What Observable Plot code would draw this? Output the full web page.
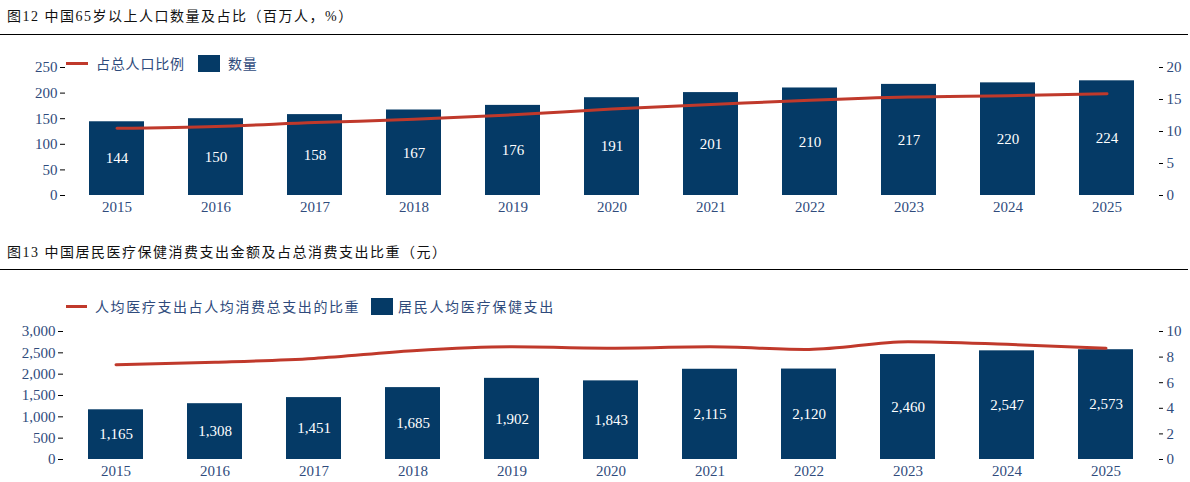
<!DOCTYPE html>
<html>
<head>
<meta charset="utf-8">
<script src="https://cdn.jsdelivr.net/npm/d3@7"></script>
<script src="https://cdn.jsdelivr.net/npm/@observablehq/plot@0.6"></script>
<style>
  html, body { margin: 0; padding: 0; background: #fff; }
  #page { position: relative; width: 1190px; height: 482px; background: #fff; overflow: hidden; }
  .title { position: absolute; left: 7px; font-family: "Liberation Serif", "Noto Sans CJK SC", serif; font-size: 14px; line-height: 14px; color: #111; white-space: nowrap; letter-spacing: 1.5px; }
  .rule { position: absolute; left: 0; width: 1188px; height: 1px; background: #000; }
  .chart { position: absolute; left: 0; }
  .leg { position: absolute; font-family: "Noto Sans CJK SC", sans-serif; font-size: 14px; line-height: 16px; color: #2F4B7C; white-space: nowrap; }
  .legline { position: absolute; height: 3px; background: #C0392B; }
  .legbox { position: absolute; background: #053A66; }
</style>
</head>
<body>
<div id="page">
  <div class="title" style="top:10px">图12 中国65岁以上人口数量及占比（百万人，%）</div>
  <div class="rule" style="top:34px"></div>
  <div id="c1" class="chart" style="top:40px"></div>
  <div class="legline" style="left:66px;top:62px;width:22px"></div>
  <div class="leg" style="left:96px;top:55px;letter-spacing:0.8px">占总人口比例</div>
  <div class="legbox" style="left:198px;top:55px;width:22px;height:17px"></div>
  <div class="leg" style="left:228px;top:55px;letter-spacing:0.8px">数量</div>

  <div class="title" style="top:246px">图13 中国居民医疗保健消费支出金额及占总消费支出比重（元）</div>
  <div class="rule" style="top:269px"></div>
  <div id="c2" class="chart" style="top:280px"></div>
  <div class="legline" style="left:66px;top:305px;width:21px"></div>
  <div class="leg" style="left:95px;top:298px;letter-spacing:1.6px">人均医疗支出占人均消费总支出的比重</div>
  <div class="legbox" style="left:371px;top:298px;width:22px;height:17px"></div>
  <div class="leg" style="left:398px;top:298px;letter-spacing:1.7px">居民人均医疗保健支出</div>
</div>
<script>
// ---- data ----
const years = ["2015","2016","2017","2018","2019","2020","2021","2022","2023","2024","2025"];
// Chart 1: population aged 65+ (millions) and share of total population (%)
const pop65 = [144, 150, 158, 167, 176, 191, 201, 210, 217, 220, 224];
const pop65Share = [10.5, 10.8, 11.4, 11.9, 12.6, 13.5, 14.2, 14.9, 15.4, 15.6, 15.9];
const leftTicks1 = [0, 50, 100, 150, 200, 250];
const rightTicks1 = [0, 5, 10, 15, 20];
// Chart 2: per-capita healthcare spending (yuan) and share of total consumption (%)
const healthSpend = [1165, 1308, 1451, 1685, 1902, 1843, 2115, 2120, 2460, 2547, 2573];
const healthShare = [7.4, 7.6, 7.9, 8.5, 8.8, 8.7, 8.8, 8.6, 9.2, 9.0, 8.7];
const leftTicks2 = [0, 500, 1000, 1500, 2000, 2500, 3000];
const rightTicks2 = [0, 2, 4, 6, 8, 10];

const BAR = "#053A66", RED = "#C0392B", TXT = "#2F4B7C";
const SERIF = "Liberation Serif";

function dualChart({el, bars, pct, leftMax, rightMax, leftTicks, rightTicks, leftFmt, labelFmt, height, mt, mb, ml, curve}) {
  const k = leftMax / rightMax;
  const data = years.map((y, i) => ({year: y, v: bars[i], p: pct[i]}));
  const chart = Plot.plot({
    width: 1190,
    height,
    marginTop: mt,
    marginBottom: mb,
    marginLeft: ml,
    marginRight: 32,
    style: {fontFamily: SERIF, fontSize: "14px", color: TXT, background: "transparent", overflow: "visible"},
    x: {type: "band", domain: years, paddingInner: 0.447, paddingOuter: 0.2235, axis: null, label: null},
    y: {domain: [0, leftMax], axis: null, label: null},
    marks: [
      Plot.barY(data, {x: "year", y: "v", fill: BAR}),
      Plot.text(data, {x: "year", y: d => d.v / 2, text: d => labelFmt(d.v), fill: "white", fontFamily: SERIF, fontSize: 15}),
      Plot.line(data, {x: "year", y: d => d.p * k, stroke: RED, strokeWidth: 3, curve}),
      Plot.axisY(leftTicks, {anchor: "left", label: null, tickFormat: leftFmt, tickSize: 5, tickPadding: 3, stroke: "#000", fill: TXT, fontSize: 15, line: true}),
      Plot.axisY(rightTicks.map(t => t * k), {anchor: "right", label: null, tickFormat: d => d3.format("d")(Math.round(d / k)), tickSize: 4, tickPadding: 4, stroke: "#000", fill: TXT, fontSize: 15, line: true}),
      Plot.axisX({anchor: "bottom", label: null, tickSize: 0, tickPadding: 6, stroke: "#000", fill: TXT, fontSize: 15, line: true})
    ]
  });
  document.getElementById(el).appendChild(chart);
}

dualChart({
  el: "c1", bars: pop65, pct: pop65Share, leftMax: 250, rightMax: 20,
  leftTicks: leftTicks1, rightTicks: rightTicks1,
  leftFmt: d3.format("d"), labelFmt: d3.format("d"),
  height: 185, mt: 27, mb: 30, ml: 65, curve: "monotone-x"
});
dualChart({
  el: "c2", bars: healthSpend, pct: healthShare, leftMax: 3000, rightMax: 10,
  leftTicks: leftTicks2, rightTicks: rightTicks2,
  leftFmt: d3.format(","), labelFmt: d3.format(","),
  height: 202, mt: 51, mb: 23, ml: 63, curve: "monotone-x"
});
</script>
</body>
</html>
